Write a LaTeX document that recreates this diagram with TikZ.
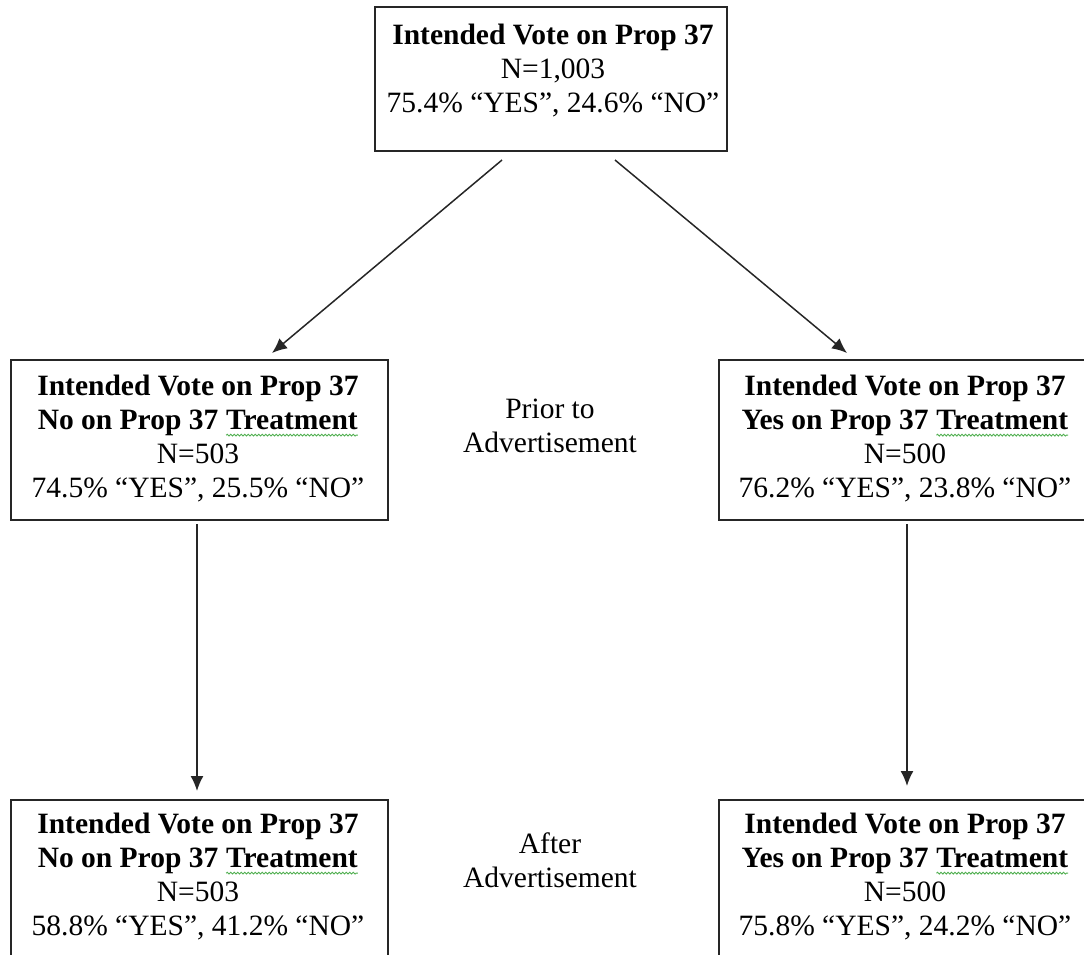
\documentclass[tikz,border=0pt]{standalone}
\usepackage{fontspec}
\setmainfont{Liberation Serif}
\usetikzlibrary{arrows.meta,decorations.pathmorphing}
\definecolor{squig}{RGB}{80,175,80}
\newcommand{\spellmark}[1]{\tikz[baseline=(sw.base)]{\node[inner sep=0pt,outer sep=0pt](sw){#1};\draw[squig,line width=0.9pt,decorate,decoration={snake,amplitude=0.9pt,segment length=3.5pt}] ([yshift=-5.5pt]sw.base west) -- ([yshift=-5.5pt]sw.base east);}}
\begin{document}
\begin{tikzpicture}[x=1pt,y=-1pt,
  box/.style={draw=black!85, line width=2pt, rectangle, inner sep=0pt},
  txt/.style={align=center, inner sep=0pt, anchor=north, font=\fontsize{29.5}{34}\selectfont},
  arr/.style={line width=1.5pt, draw=black!85, -{Latex[length=15pt,width=13pt]}}]
\clip (0,0) rectangle (1084,954);
% boxes
\node[box, minimum width=352pt, minimum height=144pt] (top) at (551,79) {};
\node[box, minimum width=377pt, minimum height=160pt] (midL) at (199.5,440) {};
\node[box, minimum width=368pt, minimum height=160pt] (midR) at (903,440) {};
\node[box, minimum width=377pt, minimum height=160pt] (botL) at (199.5,880) {};
\node[box, minimum width=368pt, minimum height=160pt] (botR) at (903,880) {};
% texts
\node[txt] (topT) at (553,24) {\textbf{Intended Vote on Prop 37}\\N=1,003\\75.4\% “YES”, 24.6\% “NO”};
\node[txt] (midLT) at (198,375) {\textbf{Intended Vote on Prop 37}\\\textbf{No on Prop 37 \spellmark{Treatment}}\\N=503\\74.5\% “YES”, 25.5\% “NO”};
\node[txt] (midRT) at (905,375) {\textbf{Intended Vote on Prop 37}\\\textbf{Yes on Prop 37 \spellmark{Treatment}}\\N=500\\76.2\% “YES”, 23.8\% “NO”};
\node[txt] (botLT) at (198,813) {\textbf{Intended Vote on Prop 37}\\\textbf{No on Prop 37 \spellmark{Treatment}}\\N=503\\58.8\% “YES”, 41.2\% “NO”};
\node[txt] (botRT) at (905,813) {\textbf{Intended Vote on Prop 37}\\\textbf{Yes on Prop 37 \spellmark{Treatment}}\\N=500\\75.8\% “YES”, 24.2\% “NO”};
\node[txt] (prior) at (550,399) {Prior to\\Advertisement};
\node[txt] (after) at (550,833) {After\\Advertisement};
% connectors
\draw[arr] ([shift={(-49,8)}]top.south) -- ([shift={(72.5,-6)}]midL.north);
\draw[arr] ([shift={(64,8)}]top.south) -- ([shift={(-56,-6)}]midR.north);
\draw[arr] ([shift={(-2.5,3)}]midL.south) -- ([shift={(-2.5,-8)}]botL.north);
\draw[arr] ([shift={(4,3)}]midR.south) -- ([shift={(4,-13)}]botR.north);
\end{tikzpicture}
\end{document}
